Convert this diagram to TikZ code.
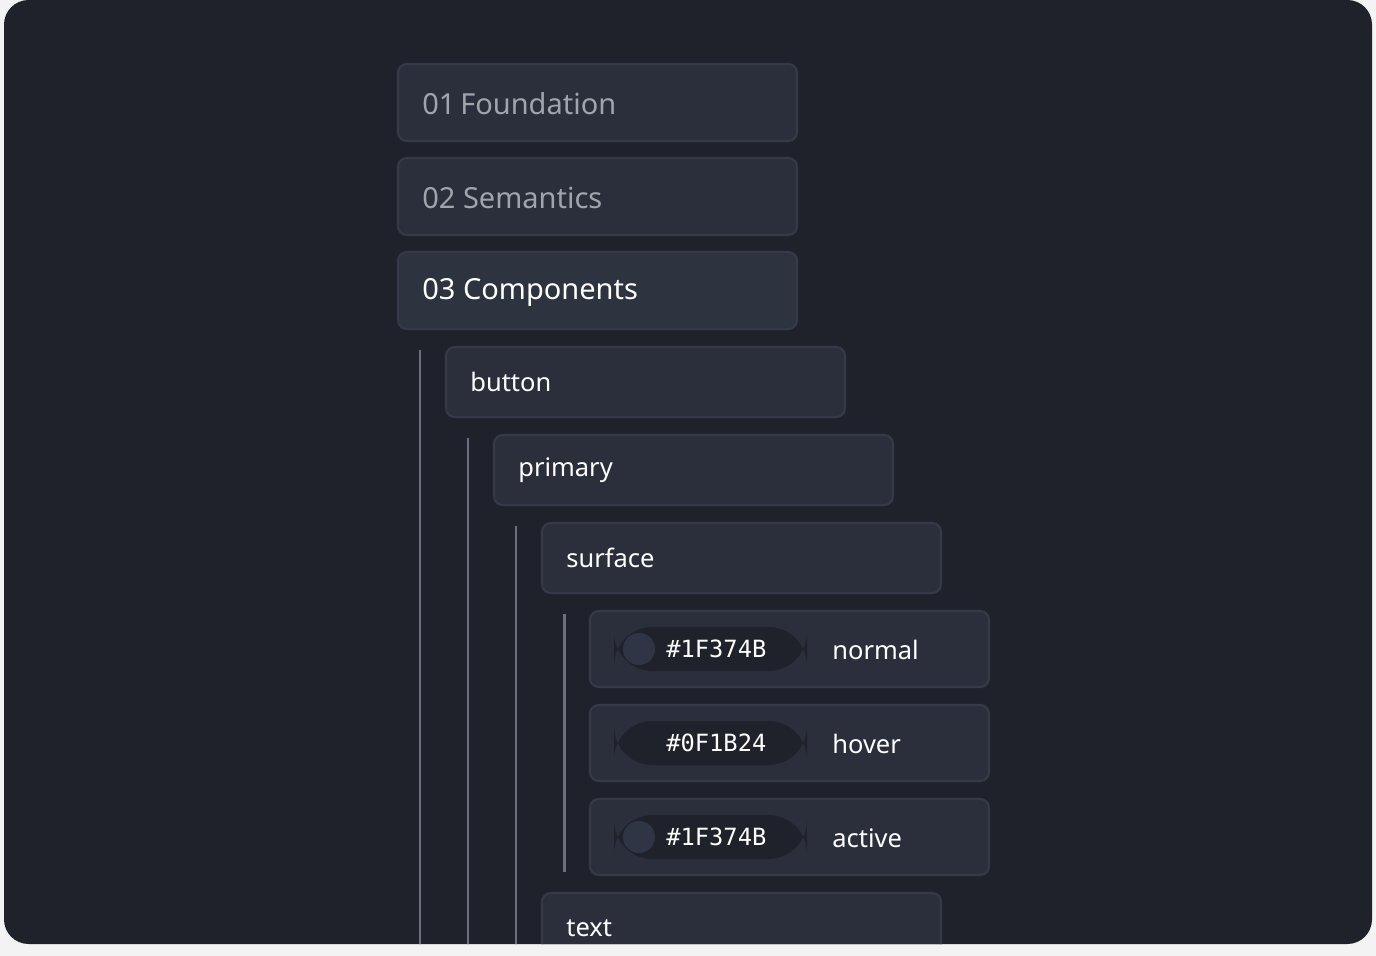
\documentclass[tikz,border=0pt]{standalone}
\usepackage{fontspec}
\setmainfont{Noto Sans}
\setmonofont{DejaVu Sans Mono}
\usetikzlibrary{positioning}
\definecolor{pagebg}{HTML}{F3F3F4}
\definecolor{panelbg}{HTML}{1F222B}
\definecolor{boxbg}{HTML}{2A2F3B}
\definecolor{boxhi}{HTML}{2E3340}
\definecolor{boxline}{HTML}{343A48}
\definecolor{guide}{HTML}{6B6F80}
\definecolor{dimtext}{HTML}{A0A4AC}
\definecolor{dot}{HTML}{2F3545}
\tikzset{
  box/.style={draw=boxline, line width=1.2, fill=boxbg, rounded corners=5},
  head/.style={font=\fontsize{16.5}{18}\selectfont, anchor=west, inner sep=0},
  item/.style={font=\fontsize{14.5}{16}\selectfont, anchor=west, inner sep=0, text=white},
  hex/.style={font=\ttfamily\fontsize{13.5}{15}\selectfont, anchor=west, inner sep=0, text=white},
  guideline/.style={draw=guide, line width=1.7}
}
\begin{document}
\begin{tikzpicture}[x=0.02cm, y=-0.02cm]
	% Fondo
	\fill [pagebg] (0,0) rectangle (1376,956);
	\fill [panelbg, rounded corners=14] (4,0) rectangle (1372,944);
	\useasboundingbox (0,0) rectangle (1376,956);
	\clip [rounded corners=14] (4,0) rectangle (1372,944);

	% Niveles superiores
	\draw [box] (398,64) rectangle (797,141);
	\node [head, text=dimtext] (foundation) at (422,104) {01\,Foundation};
	\draw [box] (398,158) rectangle (797,235);
	\node [head, text=dimtext] (semantics) at (422,198) {02 Semantics};
	\draw [box, fill=boxhi] (398,252) rectangle (797,329);
	\node [head, text=white] (components) at (422,292) {03 Components};

	% Guias
	\draw [guideline] (420,350) -- (420,956);
	\draw [guideline] (468,438) -- (468,956);
	\draw [guideline] (516,526) -- (516,956);
	\draw [guideline] (564,614) -- (564,872);

	% Arbol
	\draw [box] (446,347) rectangle (845,417);
	\node [item] (button) at (470,382) {button};
	\draw [box] (494,435) rectangle (893,505);
	\node [item] (primary) at (518,470) {primary};
	\draw [box] (542,523) rectangle (941,593);
	\node [item] (surface) at (566,558) {surface};

	% Estados
	\foreach \y/\hexv/\state/\dotcol in {611/\#1F374B/normal/dot, 705/\#0F1B24/hover/panelbg, 799/\#1F374B/active/dot} {
		\draw [box] (590,\y) rectangle (989,\y+76);
		\fill [panelbg, rounded corners=22] (614,\y+16) rectangle (807,\y+60);
		\fill [\dotcol] (639,\y+38) circle (16);
		\node [hex] at (666,\y+38) {\hexv};
		\node [item] at (832,\y+39) {\state};
	}

	% Texto
	\draw [box] (542,893) rectangle (941,990);
	\node [item] (textnode) at (566,928) {text};
\end{tikzpicture}
\end{document}
